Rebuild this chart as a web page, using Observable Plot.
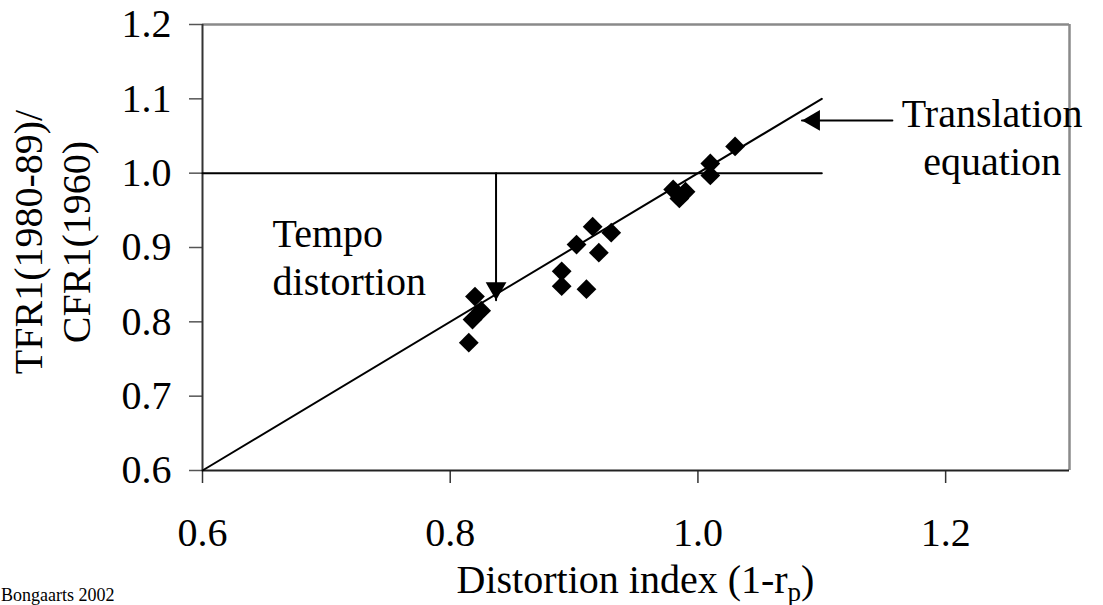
<!DOCTYPE html>
<html>
<head>
<meta charset="utf-8">
<script src="https://cdn.jsdelivr.net/npm/d3@7"></script>
<script src="https://cdn.jsdelivr.net/npm/@observablehq/plot@0.6"></script>
<style>
  html, body { margin: 0; padding: 0; background: #fff; }
  #chart svg { display: block; }
</style>
</head>
<body>
<div id="chart"></div>
<script>
// ---- data ----
const xTicks = [0.6, 0.8, 1.0, 1.2];
const yTicks = [0.6, 0.7, 0.8, 0.9, 1.0, 1.1, 1.2];
const distortionIndex = [0.820, 0.825, 0.818, 0.815, 0.890, 0.890, 0.910, 0.902, 0.915, 0.930, 0.920, 0.980, 0.985, 0.990, 1.010, 1.010, 1.030];
const tfrRatio        = [0.834, 0.815, 0.803, 0.772, 0.868, 0.848, 0.844, 0.904, 0.928, 0.920, 0.893, 0.978, 0.966, 0.975, 1.013, 0.997, 1.036];
const equationX = [0.6, 1.1];
const equationY = [0.6, 1.1];
const referenceX = [0.6, 1.1];
const referenceY = [1.0, 1.0];
const tempoArrowX = [0.837, 0.837];
const tempoArrowY = [1.0, 0.829];
const translationArrowX = [1.157, 1.084];
const translationArrowY = [1.071, 1.071];
const tempoLabel = ["Tempo", "distortion"];
const translationLabel = ["Translation", "equation"];
const yLabel = ["TFR1(1980-89)/", "CFR1(1960)"];
const xLabel = "Distortion index (1-r";
const xLabelSub = "p";
const source = "Bongaarts 2002";

const points = distortionIndex.map((d, i) => ({x: d, y: tfrRatio[i]}));
const eqLine = equationX.map((d, i) => ({x: d, y: equationY[i]}));
const refLine = referenceX.map((d, i) => ({x: d, y: referenceY[i]}));
const tempoArrow = tempoArrowX.map((d, i) => ({x: d, y: tempoArrowY[i]}));
const transArrow = translationArrowX.map((d, i) => ({x: d, y: translationArrowY[i]}));

const FONT = "'Liberation Serif', 'Times New Roman', serif";

const plot = Plot.plot({
  width: 1103,
  height: 605,
  marginLeft: 202,
  marginRight: 34,
  marginTop: 24,
  marginBottom: 135,
  style: {fontFamily: FONT, fontSize: "40px", background: "#fff", color: "#000", overflow: "visible"},
  x: {domain: [0.6, 1.3]},
  y: {domain: [0.6, 1.2]},
  marks: [
    // frame: grey top / right borders
    Plot.ruleY([1.2], {stroke: "#8a8a8a", strokeWidth: 2.5}),
    Plot.ruleX([1.3], {stroke: "#8a8a8a", strokeWidth: 2.5}),
    Plot.axisX({ticks: xTicks, tickFormat: d => d.toFixed(1), tickSize: 13, tickPadding: 34, label: null, fontSize: 40, stroke: "#333", strokeWidth: 1.5}),
    Plot.axisY({ticks: yTicks, tickFormat: d => d.toFixed(1), tickSize: 13, tickPadding: 18, label: null, fontSize: 40, stroke: "#555", strokeWidth: 1.5}),
    Plot.ruleY([0.6], {stroke: "#222", strokeWidth: 2}),
    Plot.ruleX([0.6], {stroke: "#333", strokeWidth: 2}),
    Plot.line(refLine, {x: "x", y: "y", stroke: "#000", strokeWidth: 2}),
    Plot.line(eqLine, {x: "x", y: "y", stroke: "#000", strokeWidth: 2}),
    Plot.line(tempoArrow, {x: "x", y: "y", stroke: "#000", strokeWidth: 2}),
    Plot.dot(tempoArrow.slice(1), {x: "x", y: "y", symbol: "triangle", r: 7.7, fill: "#000", rotate: 180, dy: -12}),
    Plot.line(transArrow, {x: "x", y: "y", stroke: "#000", strokeWidth: 2}),
    Plot.dot(transArrow.slice(1), {x: "x", y: "y", symbol: "triangle", r: 7.7, fill: "#000", rotate: -90, dx: 12}),
    Plot.dot(points, {x: "x", y: "y", symbol: "square", r: 7.9, fill: "#000", rotate: 45})
  ]
});

document.getElementById("chart").appendChild(plot);

const sx = plot.scale("x"), sy = plot.scale("y");
const svg = d3.select(plot);

function addText(lines, xv, yv, anchor, lh) {
  const t = svg.append("text")
    .attr("font-family", FONT).attr("font-size", 40).attr("fill", "#000")
    .attr("text-anchor", anchor);
  lines.forEach((s, i) => {
    t.append("tspan").attr("x", sx.apply(xv)).attr("y", sy.apply(yv) + i * lh).text(s);
  });
}
addText(tempoLabel, 0.657, 0.900, "start", 48);
addText(translationLabel, 1.238, 1.062, "middle", 48);

// x axis label with subscript
const xl = svg.append("text")
  .attr("font-family", FONT).attr("font-size", 40).attr("fill", "#000")
  .attr("text-anchor", "middle")
  .attr("x", (sx.apply(0.6) + sx.apply(1.3)) / 2).attr("y", 593);
xl.append("tspan").text(xLabel);
xl.append("tspan").attr("font-size", 27).attr("dy", 8).text(xLabelSub);
xl.append("tspan").attr("dy", -8).text(")");

// y axis label (two rotated lines)
const cy = (sy.apply(0.6) + sy.apply(1.2)) / 2 - 5;
yLabel.forEach((s, i) => {
  const bx = 42 + i * 48;
  svg.append("text")
    .attr("font-family", FONT).attr("font-size", 40).attr("fill", "#000")
    .attr("text-anchor", "middle")
    .attr("transform", `translate(${bx},${cy}) rotate(-90)`)
    .text(s);
});

// source note
svg.append("text")
  .attr("font-family", FONT).attr("font-size", 18).attr("fill", "#000")
  .attr("text-anchor", "start")
  .attr("x", 1).attr("y", 601)
  .text(source);
</script>
</body>
</html>
